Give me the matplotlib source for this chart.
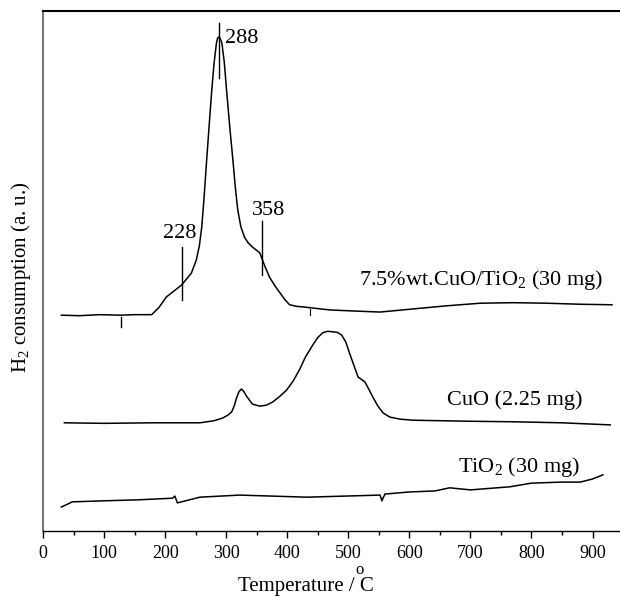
import matplotlib
matplotlib.use("Agg")
import matplotlib.pyplot as plt

plt.rcParams['font.family'] = ['Liberation Serif', 'DejaVu Serif']
plt.rcParams['mathtext.fontset'] = 'custom'
plt.rcParams['mathtext.rm'] = 'Liberation Serif'
plt.rcParams['mathtext.it'] = 'Liberation Serif:italic'

# 7.5%wt.CuO/TiO2 (30 mg)
t_cat = [30, 60, 93, 127, 150, 178, 190, 202, 215, 227, 243, 251, 256, 260, 264, 268, 272,
         276, 280, 284, 286, 288, 290, 293, 297, 301, 306, 311, 315, 319, 324, 330, 336, 343,
         355, 363, 371, 380, 388, 396, 404, 415, 425, 470, 510, 552, 606, 661, 716, 770,
         825, 880, 932]
s_cat = [41.5, 41.4, 41.6, 41.5, 41.6, 41.6, 43.0, 45.0, 46.2, 47.3, 49.6, 52.1, 54.8, 58.5,
         64.5, 71.3, 77.8, 84.2, 89.8, 93.8, 94.8, 95.0, 94.8, 93.8, 90.0, 84.2, 77.5, 71.3,
         66.0, 61.7, 58.5, 56.5, 55.4, 54.6, 53.5, 51.0, 48.8, 47.1, 45.8, 44.5, 43.5, 43.2,
         43.1, 42.5, 42.3, 42.1, 42.7, 43.3, 43.8, 43.9, 43.8, 43.6, 43.5]

# CuO (2.25 mg)
t_cuo = [35, 100, 180, 257, 280, 294, 303, 309, 313, 317, 321, 325, 329, 334, 343, 355,
         366, 376, 387, 399, 410, 420, 430, 442, 450, 458, 466, 475, 482, 489, 496, 502,
         509, 516, 527, 533, 540, 548, 557, 568, 585, 606, 700, 770, 850, 929]
s_cuo = [20.8, 20.7, 20.8, 20.8, 21.2, 21.7, 22.3, 22.9, 24.0, 25.6, 26.8, 27.3, 26.8, 25.8,
         24.4, 24.0, 24.2, 24.8, 25.8, 27.1, 28.9, 31.0, 33.5, 35.8, 37.2, 38.1, 38.4, 38.3,
         38.2, 37.7, 36.3, 34.2, 31.9, 29.6, 28.7, 27.4, 25.8, 24.1, 22.7, 21.9, 21.5, 21.3,
         21.1, 21.0, 20.8, 20.4]

# TiO2 (30 mg)
t_tio = [30, 48, 100, 158, 212, 216, 220, 257, 322, 432, 552, 555, 560, 600, 642, 666,
         700, 765, 800, 850, 880, 900, 917]
s_tio = [4.6, 5.6, 5.8, 6.0, 6.3, 6.7, 5.4, 6.5, 6.9, 6.5, 6.9, 5.8, 7.1, 7.5, 7.7, 8.3,
         7.9, 8.5, 9.2, 9.4, 9.4, 10.0, 10.8]

# peak markers (temperature, bottom, top)
peaks = [228, 288, 358]
peak_lo = [44.4, 87.1, 49.2]
peak_hi = [54.6, 97.7, 59.6]
peak_lbl_x = [224, 298, 370]
peak_lbl_y = [56.3, 93.8, 60.8]

fig = plt.figure(figsize=(6.2, 5.97), dpi=100)
ax = fig.add_axes([0.0694, 0.1106, 0.9306, 0.871])

ax.plot(t_cat, s_cat, color='black', lw=1.1)
ax.plot(t_cuo, s_cuo, color='black', lw=1.1)
ax.plot(t_tio, s_tio, color='black', lw=1.1)

for p, lo, hi in zip(peaks, peak_lo, peak_hi):
    ax.plot([p, p], [lo, hi], color='black', lw=1.0)
# small marks on the baseline
ax.plot([127, 127], [39.2, 41.2], color='black', lw=1.0)
ax.plot([437, 437], [41.5, 42.7], color='black', lw=0.8)

ax.text(peak_lbl_x[0], peak_lbl_y[0], '228', ha='center', va='baseline', fontsize=16)
ax.text(peak_lbl_x[1], peak_lbl_y[1], '288', ha='left', va='baseline', fontsize=16)
ax.text(peak_lbl_x[2], peak_lbl_y[2], '358', ha='center', va='baseline', fontsize=16)

ax.text(917, 47.3, '7.5%wt.CuO/TiO$_2$ (30 mg)', ha='right', va='baseline', fontsize=16)
ax.text(884, 24.2, 'CuO (2.25 mg)', ha='right', va='baseline', fontsize=16)
ax.text(879, 11.3, 'TiO$_2$ (30 mg)', ha='right', va='baseline', fontsize=16)

ax.set_xlim(0, 945)
ax.set_ylim(0, 100)
ax.set_xticks(range(0, 1000, 100))
ax.set_xticks(range(50, 950, 100), minor=True)
ax.tick_params(axis='x', which='major', direction='out', length=5, width=1, labelsize=13, pad=5)
ax.tick_params(axis='x', which='minor', direction='out', length=3, width=1)
ax.set_yticks([])
ax.spines['right'].set_visible(False)
ax.spines['left'].set_color('#777777')
ax.spines['left'].set_linewidth(1.5)
ax.spines['top'].set_linewidth(1.5)
ax.spines['bottom'].set_linewidth(1.0)

fig.text(0.034, 0.536, 'H$_2$ consumption (a. u.)', rotation=90, ha='center', va='center', fontsize=15)
fig.text(0.4935, 0.018, 'Temperature / C', ha='center', va='center', fontsize=15)
fig.text(0.5806, 0.045, 'o', ha='center', va='center', fontsize=12)

fig.savefig('out.png', dpi=100)
